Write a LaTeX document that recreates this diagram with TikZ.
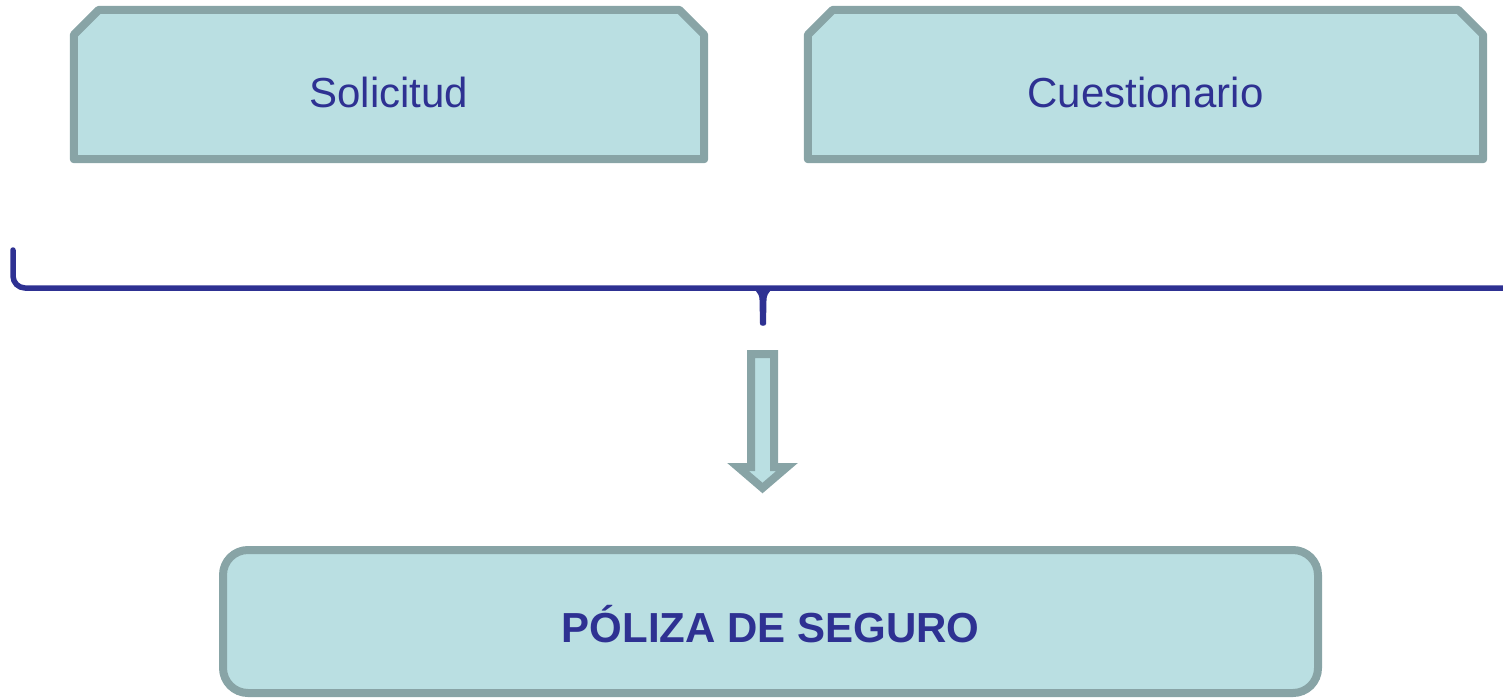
\documentclass[tikz,border=0pt]{standalone}
\usepackage{fontspec}
\setmainfont{Liberation Sans}
\usetikzlibrary{backgrounds}
\definecolor{boxfill}{HTML}{BADFE2}
\definecolor{boxline}{HTML}{88A4A6}
\definecolor{txtblue}{HTML}{2E3192}
\tikzset{
  textbox/.style={rectangle, minimum height=149pt, inner sep=0pt,
    text=txtblue, font=\fontsize{42}{50}\selectfont, text height=45pt, text depth=0pt},
  chamline/.style={draw=boxline, fill=boxfill, line width=8pt, line join=round},
  resultbox/.style={rectangle, rounded corners=25pt, draw=boxline, fill=boxfill, line width=8pt,
    minimum width=1095pt, minimum height=143pt, inner sep=0pt,
    text=txtblue, font=\fontsize{42}{50}\selectfont\bfseries, text height=41pt, text depth=0pt},
  bracestyle/.style={draw=txtblue, line width=5.5pt, line cap=round, line join=round},
  arrowstyle/.style={draw=boxline, fill=boxfill, line width=8pt, line join=miter}
}
\begin{document}
\begin{tikzpicture}[x=1pt,y=-1pt]
\useasboundingbox (0,0) rectangle (1503,699);
\node[textbox, minimum width=630pt] (sol) at (389,84.5) {Solicitud};
\node[textbox, minimum width=675pt] (cue) at (1145.5,84.5) {Cuestionario};
\begin{scope}[on background layer]
\foreach \n in {sol,cue}{
  \draw[chamline] (\n.south west) -- ([yshift=-25pt]\n.north west) -- ([xshift=25pt]\n.north west)
    -- ([xshift=-25pt]\n.north east) -- ([yshift=-25pt]\n.north east) -- (\n.south east) -- cycle;
}
\end{scope}
\node[resultbox] (pol) at (770.5,621.5) {PÓLIZA DE SEGURO};
% brace
\coordinate (bl) at (13,250);
\coordinate (br) at (1503,288);
\coordinate (bt) at (763,324);
\draw[bracestyle] (bl) -- (13,276) to[out=-90,in=180] (25,288) -- (br);
\fill[txtblue] (745,286) to[out=0,in=90] (759.5,300) -- (760,324) to[out=-90,in=-90] (766,324) -- (766.5,300) to[out=90,in=180] (781,286) -- cycle;
% arrow
\coordinate (atop) at (762.5,354);
\coordinate (atip) at (762.5,488);
\draw[arrowstyle] ([xshift=-11.5pt]atop) -- ([xshift=11.5pt]atop) -- (774,467) -- (787,467) -- (atip) -- (738,467) -- (751,467) -- cycle;
\end{tikzpicture}
\end{document}
